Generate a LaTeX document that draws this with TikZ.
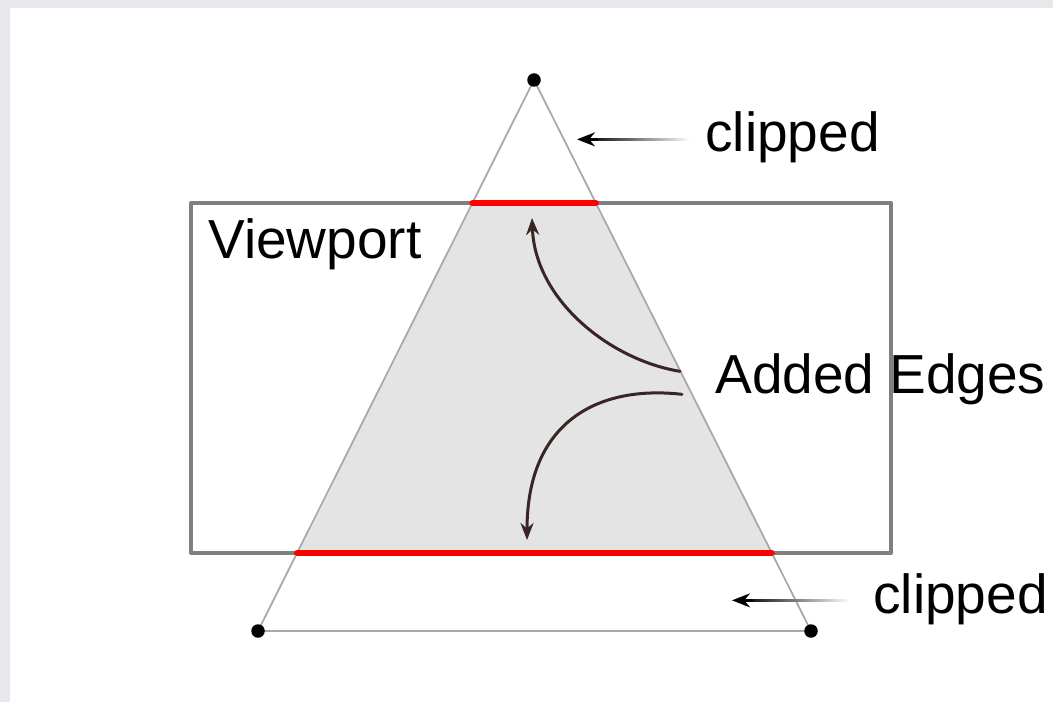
\documentclass[tikz,border=0pt]{standalone}
\usepackage{fontspec}
\setmainfont{Liberation Sans}
\usetikzlibrary{arrows.meta,fadings,calc}
\definecolor{framegray}{HTML}{E6E8EC}
\definecolor{cellgray}{HTML}{E4E4E4}
\definecolor{vpgray}{HTML}{808080}
\definecolor{edgegray}{HTML}{A8A8A8}
\definecolor{curvebrown}{HTML}{3A2424}
\begin{tikzfadingfrompicture}[name=tailfade]
\fill[transparent!0] (-2cm,-2cm) rectangle (0.8cm,2cm);
\shade[left color=transparent!0, right color=transparent!100] (0.8cm,-2cm) rectangle (1.8cm,2cm);
\fill[transparent!100] (1.8cm,-2cm) rectangle (2cm,2cm);
\end{tikzfadingfrompicture}
\tikzset{
  vertex/.style={circle, fill=black, inner sep=0pt, minimum size=0.27cm},
  lbl/.style={inner sep=0pt, anchor=base west, font=\fontsize{31.3}{38}\selectfont},
  clipedge/.style={red, line width=0.12cm},
  tiparrow/.style={-{Stealth[length=0.36cm,width=0.28cm]}, line width=0.05cm, black},
  bendarrow/.style={-{Stealth[length=0.34cm,width=0.26cm]}, line width=0.06cm, curvebrown, path fading=tailfade}
}
\begin{document}
\begin{tikzpicture}[x=0.02cm, y=-0.02cm, line join=round, line cap=round]
\fill[framegray] (0,0) rectangle (1053,702);
\fill[white] (10,8) rectangle (1053,702);
\useasboundingbox (0,0) rectangle (1053,702);
% triangle and viewport
\coordinate (top) at (534,80);
\coordinate (bl) at (258,631);
\coordinate (br) at (811,631);
\coordinate (vpnw) at (191,203);
\coordinate (vpse) at (891,553);
\coordinate (vpne) at (vpse |- vpnw);
\coordinate (vpsw) at (vpnw |- vpse);
\coordinate (cutl1) at (intersection of top--bl and vpnw--vpne);
\coordinate (cutr1) at (intersection of top--br and vpnw--vpne);
\coordinate (cutl2) at (intersection of top--bl and vpsw--vpse);
\coordinate (cutr2) at (intersection of top--br and vpsw--vpse);
\fill[cellgray] (cutl1) -- (cutr1) -- (cutr2) -- (cutl2) -- cycle;
\draw[edgegray, line width=0.035cm] (top) -- (bl) -- (br) -- cycle;
\draw[vpgray, line width=0.08cm] (vpnw) rectangle (vpse);
\draw[clipedge] (cutl1) -- (cutr1);
\draw[clipedge] (cutl2) -- (cutr2);
\foreach \p in {top,bl,br} \node[vertex] at (\p) {};
% labels
\node[lbl] (clip1) at (705,152) {clipped};
\node[lbl] (clip2) at (873,613) {clipped};
\node[lbl] (vp) at (208,258) {Viewport};
\node[lbl] (edges) at (715,393) {Added Edges};
% clipped arrows
\coordinate (tip1) at ($(clip1.mid west)+(-128,-8)$);
\coordinate (tip2) at ($(clip2.mid west)+(-141,-8)$);
\shade[left color=black, middle color=black!70, right color=white] ($(tip1)+(10,-1.3)$) rectangle ($(clip1.mid west)+(-15,-6.7)$);
\draw[tiparrow] ($(tip1)+(20,0)$) -- (tip1);
\shade[left color=black, middle color=black!70, right color=white] ($(tip2)+(10,-1.3)$) rectangle ($(clip2.mid west)+(-23,-6.7)$);
\draw[tiparrow] ($(tip2)+(20,0)$) -- (tip2);
% added edges arrows
\coordinate (up) at (532,218);
\coordinate (down) at (527,540);
\draw[bendarrow] ($(edges.mid west)+(-35,-17)$) .. controls (610,360) and (535,300) .. (up);
\draw[bendarrow] ($(edges.mid west)+(-33,6)$) .. controls (600,385) and (527,420) .. (down);
\end{tikzpicture}
\end{document}
